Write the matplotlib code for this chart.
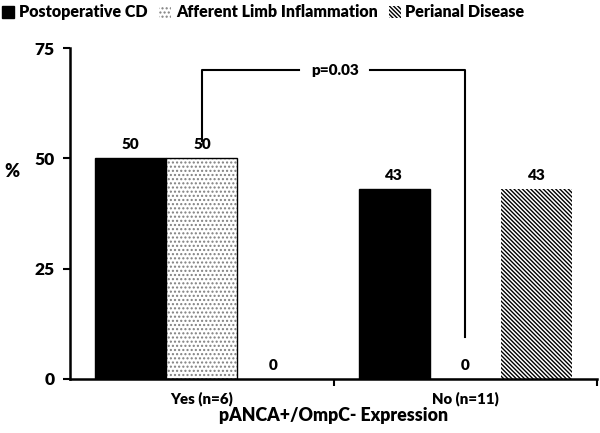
import matplotlib.pyplot as plt
import numpy as np

plt.rcParams['font.family'] = ['Lato', 'DejaVu Sans']
plt.rcParams['font.weight'] = 'heavy'
plt.rcParams['hatch.linewidth'] = 1.0

# data
groups = ['Yes (n=6)', 'No (n=11)']
series = ['Postoperative CD', 'Afferent Limb Inflammation', 'Perianal Disease']
postop_cd = [50, 43]
afferent_limb = [50, 0]
perianal = [0, 43]
p_text = 'p=0.03'

fig = plt.figure(figsize=(6, 4.33), dpi=100)
ax = fig.add_axes([0.117, 0.125, 0.878, 0.764])

x = np.arange(len(groups))
w = 0.27

b1 = ax.bar(x - w, postop_cd, w, color='black', edgecolor='black', linewidth=1)
b2 = ax.bar(x, afferent_limb, w, color='white', edgecolor='0.5', hatch='....', linewidth=0)
ax.bar(x, afferent_limb, w, fill=False, edgecolor='black', linewidth=1)
b3 = ax.bar(x + w, perianal, w, color='white', edgecolor='black', hatch='\\' * 8, linewidth=0)

for bars in (b1, b2, b3):
    ax.bar_label(bars, padding=5, fontsize=11, fontweight='heavy')

# significance bracket
ax.plot([0, 0, 0.37], [54, 70, 70], color='black', lw=1.5)
ax.plot([0.64, 1, 1], [70, 70, 9.5], color='black', lw=1.5)
ax.text(0.505, 70, p_text, ha='center', va='center', fontsize=11, fontweight='heavy')

ax.set_xlim(-0.5, 1.5)
ax.set_ylim(0, 75)
ax.set_yticks([0, 25, 50, 75])
ax.set_xticks(x)
ax.set_xticklabels(groups, fontsize=10.8, fontweight='heavy')
ax.set_xticks([0.5, 1.5], minor=True)
ax.tick_params(axis='x', which='major', length=0, pad=9)
ax.tick_params(axis='x', which='minor', length=5, width=1.5)
ax.tick_params(axis='y', length=5, width=1.5, labelsize=12.5, pad=6)
for lab in ax.get_yticklabels():
    lab.set_fontweight('heavy')

for s in ['top', 'right']:
    ax.spines[s].set_visible(False)
for s in ['left', 'bottom']:
    ax.spines[s].set_linewidth(1.8)

ax.set_xlabel('pANCA+/OmpC- Expression', fontsize=12.8, fontweight='heavy', labelpad=1)
ax.set_ylabel('%', rotation=0, fontsize=13, fontweight='heavy')
ax.yaxis.set_label_coords(-0.11, 0.60)

ax.legend([b1, b2, b3], series, loc='upper left', bbox_to_anchor=(0.004, 0.99),
          bbox_transform=fig.transFigure, ncol=3, frameon=False,
          handlelength=0.75, handleheight=0.75, handletextpad=0.3, columnspacing=0.7,
          prop={'size': 11.5, 'weight': 'heavy'}, borderaxespad=0, borderpad=0)

fig.savefig('out.png', dpi=100)
